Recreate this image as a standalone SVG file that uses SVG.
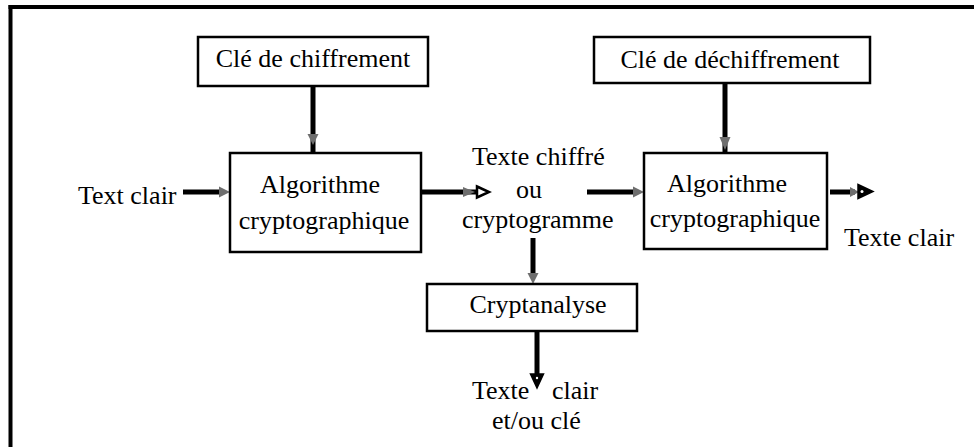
<svg xmlns="http://www.w3.org/2000/svg" width="974" height="447" viewBox="0 0 974 447">
<style>
  text { font-family: "Liberation Serif", "Times New Roman", serif; font-size: 26px; fill: #000; }
  .box { fill: #fff; stroke: #000; stroke-width: 2.5; }
  .line { stroke: #000; stroke-width: 5; fill: none; }
  .gray { fill: #6e6e6e; stroke: none; }
  .head { fill: #000; stroke: #000; stroke-width: 1.5; stroke-linejoin: miter; }
  .ohead { fill: #fff; stroke: #000; stroke-width: 2.5; }
</style>
<rect width="974" height="447" fill="#fff"/>
<g id="frame">
  <line x1="8.5" y1="7" x2="974" y2="7" stroke="#000" stroke-width="4"/>
  <line x1="10.5" y1="5" x2="10.5" y2="447" stroke="#000" stroke-width="4"/>
</g>
<g id="connectors">
  <line class="line" x1="313" y1="86" x2="313" y2="153"/>
  <path class="gray" d="M307.5,134 L318.5,134 L313,145 Z"/>
  <line class="line" x1="183" y1="192" x2="221" y2="192"/>
  <path class="gray" d="M219,186.5 L230,192 L219,197.5 Z"/>
  <line class="line" x1="422" y1="192" x2="476" y2="192"/>
  <path class="gray" d="M463,187 L475,192 L463,197 Z"/>
  <path class="ohead" d="M477,186.5 L489,192 L477,197.5 Z"/>
  <line class="line" x1="587" y1="192" x2="635" y2="192"/>
  <path class="gray" d="M633,186.5 L644,192 L633,197.5 Z"/>
  <line class="line" x1="725" y1="83" x2="725" y2="153"/>
  <path class="gray" d="M719.5,137 L730.5,137 L725,150 Z"/>
  <line class="line" x1="830" y1="192" x2="855" y2="192"/>
  <path class="gray" d="M850,187 L859,192 L850,197 Z"/>
  <path class="head" d="M858,184.5 L873,191.5 L858,198.5 Z"/>
  <circle cx="862" cy="191.5" r="1.5" fill="#fff"/>
  <line class="line" x1="533" y1="238" x2="533" y2="278"/>
  <path class="gray" d="M527.5,273 L538.5,273 L533,284 Z"/>
  <line class="line" x1="537" y1="331" x2="537" y2="376"/>
  <path class="head" d="M530.5,374 L543.5,374 L537,388 Z"/>
  <circle cx="537" cy="378" r="1.2" fill="#fff"/>
</g>
<g id="cle-chiffrement">
  <rect class="box" x="198" y="37" width="230" height="49"/>
  <text x="313" y="67" text-anchor="middle">Clé de chiffrement</text>
</g>
<g id="cle-dechiffrement">
  <rect class="box" x="594" y="37" width="276" height="46"/>
  <text x="730" y="68" text-anchor="middle">Clé de déchiffrement</text>
</g>
<g id="algo1">
  <rect class="box" x="230" y="153" width="191" height="99"/>
  <text x="320" y="193" text-anchor="middle">Algorithme</text>
  <text x="324" y="229" text-anchor="middle">cryptographique</text>
</g>
<g id="algo2">
  <rect class="box" x="644" y="153" width="183" height="96"/>
  <text x="727" y="192" text-anchor="middle">Algorithme</text>
  <text x="735" y="227" text-anchor="middle">cryptographique</text>
</g>
<g id="cryptanalyse">
  <rect class="box" x="427" y="284" width="210" height="47"/>
  <text x="538" y="313" text-anchor="middle">Cryptanalyse</text>
</g>
<g id="text-clair-in">
  <text x="78" y="204">Text clair</text>
</g>
<g id="texte-chiffre">
  <text x="472" y="165">Texte chiffré</text>
  <text x="529" y="198" text-anchor="middle">ou</text>
  <text x="462" y="228">cryptogramme</text>
</g>
<g id="texte-clair-out">
  <text x="844" y="246">Texte clair</text>
</g>
<g id="resultat">
  <text x="472" y="399">Texte</text>
  <text x="552" y="399">clair</text>
  <text x="492" y="429">et/ou clé</text>
</g>
</svg>
